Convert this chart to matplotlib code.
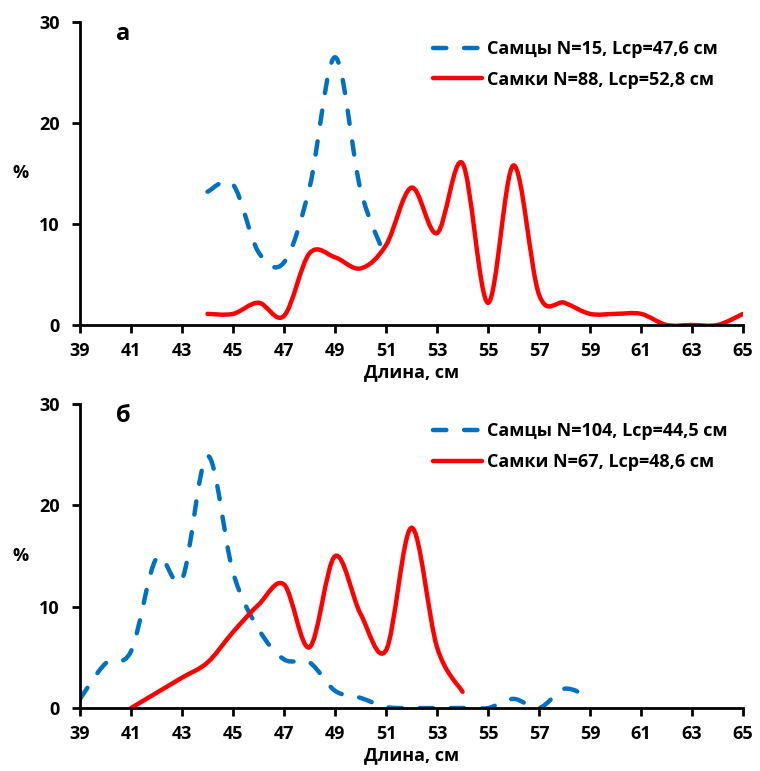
import numpy as np
import matplotlib
matplotlib.use('Agg')
import matplotlib.pyplot as plt
from matplotlib.path import Path
from matplotlib.patches import PathPatch
from matplotlib.lines import Line2D

plt.rcParams['font.family'] = ['Open Sans', 'DejaVu Sans']
plt.rcParams['font.weight'] = 'bold'

# panel а
a_male_x = [44, 45, 46, 47, 48, 49, 50, 51]
a_male_y = [13.2, 13.9, 7.2, 6.2, 13.6, 26.5, 13.4, 6.6]
a_female_x = list(range(44, 66))
a_female_y = [1.1, 1.1, 2.2, 0.9, 7.1, 6.7, 5.6, 7.9, 13.6, 9.1, 16.0, 2.2,
              15.8, 3.0, 2.2, 1.1, 1.1, 1.1, 0.0, 0.0, 0.0, 1.1]
a_labels = ['Самцы N=15, Lср=47,6 см', 'Самки N=88, Lср=52,8 см']

# panel б
b_male_x = list(range(39, 60))
b_male_y = [0.9, 4.4, 5.6, 14.8, 12.7, 24.9, 13.4, 7.8, 4.8, 4.5, 1.7, 1.0,
            0.1, 0.0, 0.0, 0.0, 0.0, 0.9, 0.0, 1.9, 1.0]
b_female_x = list(range(41, 55))
b_female_y = [0.0, 1.5, 3.0, 4.5, 7.5, 10.2, 12.2, 6.0, 15.0, 9.3, 5.7, 17.8, 6.0, 1.6]
b_labels = ['Самцы N=104, Lср=44,5 см', 'Самки N=67, Lср=48,6 см']

xticks = list(range(39, 66, 2))
yticks = [0, 10, 20, 30]

BLUE = '#0070C0'
RED = '#FF0000'
DASH = (0, (3.0, 4.0))
FS = 13


def smooth_path(x, y):
    # Excel-style smoothed line: cubic Bezier through every point
    p = np.column_stack([x, y]).astype(float)
    n = len(p)
    verts = [p[0]]
    codes = [Path.MOVETO]
    for i in range(n - 1):
        p0 = p[i - 1] if i > 0 else p[i]
        p3 = p[i + 2] if i + 2 < n else p[i + 1]
        c1 = p[i] + (p[i + 1] - p0) / 6
        c2 = p[i + 1] - (p3 - p[i]) / 6
        verts += [c1, c2, p[i + 1]]
        codes += [Path.CURVE4] * 3
    return Path(verts, codes)


def draw_panel(ax, mx, my, fx, fy, labels, letter):
    ax.add_patch(PathPatch(smooth_path(mx, my), fill=False, edgecolor=BLUE,
                           lw=3.2, linestyle=DASH, capstyle='round'))
    ax.add_patch(PathPatch(smooth_path(fx, fy), fill=False, edgecolor=RED,
                           lw=3.2, capstyle='round'))
    ax.set_xlim(39, 65)
    ax.set_ylim(0, 30)
    ax.set_xticks(xticks)
    ax.set_yticks(yticks)
    ax.tick_params(labelsize=FS, width=2, length=5.5, direction='out')
    ax.tick_params(axis='x', pad=7)
    ax.tick_params(axis='y', pad=9)
    for s in ['top', 'right']:
        ax.spines[s].set_visible(False)
    for s in ['left', 'bottom']:
        ax.spines[s].set_linewidth(2)
    ax.set_xlabel('Длина, см', fontsize=FS, fontweight='bold', labelpad=2)
    ax.set_ylabel('%', fontsize=FS, fontweight='bold', rotation=0, va='center')
    ax.yaxis.set_label_coords(-0.09, 0.5)
    ax.text(0.055, 0.96, letter, transform=ax.transAxes, fontsize=17,
            fontweight='bold', va='center', ha='left')
    handles = [Line2D([], [], color=BLUE, lw=3.2, linestyle=DASH, dash_capstyle='round'),
               Line2D([], [], color=RED, lw=3.2, solid_capstyle='round')]
    ax.legend(handles, labels, loc='upper left', bbox_to_anchor=(0.532, 0.94),
              frameon=False, fontsize=FS, handlelength=2.7, handletextpad=0.3,
              labelspacing=0.7, borderpad=0, borderaxespad=0)


fig = plt.figure(figsize=(7.6, 7.71), dpi=100)
ax1 = fig.add_axes([0.1053, 0.5785, 0.8724, 0.393])
ax2 = fig.add_axes([0.1053, 0.0817, 0.8724, 0.394])
draw_panel(ax1, a_male_x, a_male_y, a_female_x, a_female_y, a_labels, 'а')
draw_panel(ax2, b_male_x, b_male_y, b_female_x, b_female_y, b_labels, 'б')

fig.savefig('out.png', dpi=100)
